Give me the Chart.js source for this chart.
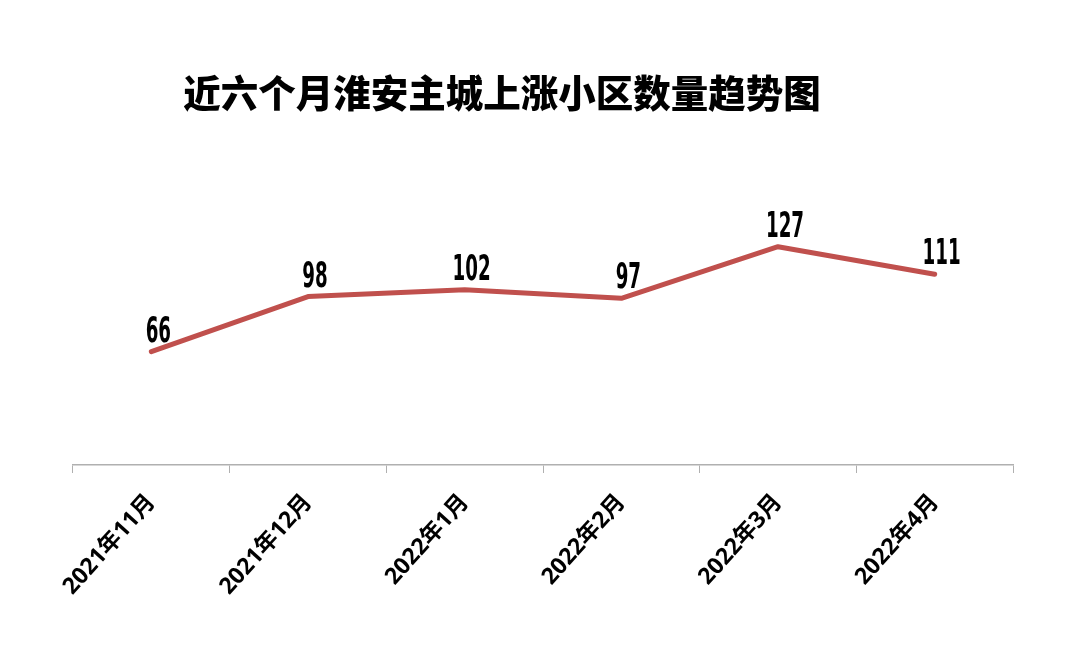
<!DOCTYPE html>
<html>
<head>
<meta charset="utf-8">
<script src="https://cdn.jsdelivr.net/npm/chart.js@4/dist/chart.umd.min.js"></script>
<style>
  html, body { margin: 0; padding: 0; background: #fff; }
  #wrap { width: 1080px; height: 656px; position: relative; }
</style>
</head>
<body>
<div id="wrap"><canvas id="c"></canvas></div>
<script>
const titleText = '近六个月淮安主城上涨小区数量趋势图';
const categories = ['2021年11月', '2021年12月', '2022年1月', '2022年2月', '2022年3月', '2022年4月'];
const values = [66, 98, 102, 97, 127, 111];

const titlePlugin = {
  id: 'customTitle',
  afterDraw(chart) {
    const ctx = chart.ctx;
    ctx.save();
    ctx.font = '900 37.5px "Noto Sans CJK SC", sans-serif';
    ctx.fillStyle = '#000';
    ctx.textAlign = 'center';
    ctx.textBaseline = 'middle';
    ctx.fillText(titleText, 502, 93);
    ctx.restore();
  }
};

const labelPlugin = {
  id: 'valueLabels',
  afterDatasetsDraw(chart) {
    const ctx = chart.ctx;
    const meta = chart.getDatasetMeta(0);
    ctx.save();
    ctx.font = 'bold 35px "DejaVu Sans Condensed", "DejaVu Sans", sans-serif';
    ctx.fillStyle = '#000';
    ctx.textAlign = 'center';
    ctx.textBaseline = 'alphabetic';
    meta.data.forEach((pt, i) => {
      const v = chart.data.datasets[0].data[i];
      ctx.save();
      ctx.translate(pt.x + 7, pt.y - 10);
      ctx.scale(0.58, 1);
      ctx.fillText(String(v), 0, 0);
      ctx.restore();
    });
    ctx.restore();
  }
};

new Chart(document.getElementById('c'), {
  type: 'line',
  data: {
    labels: categories,
    datasets: [{
      data: values,
      borderColor: '#C0504D',
      backgroundColor: '#C0504D',
      borderWidth: 5,
      pointRadius: 0,
      pointHoverRadius: 0,
      tension: 0,
      fill: false,
      borderCapStyle: 'round',
      borderJoinStyle: 'round'
    }]
  },
  options: {
    responsive: true,
    maintainAspectRatio: false,
    animation: false,
    events: [],
    layout: { padding: { top: 190, left: 73, right: 67, bottom: 0 } },
    plugins: {
      legend: { display: false },
      title: { display: false },
      tooltip: { enabled: false }
    },
    scales: {
      x: {
        type: 'category',
        offset: true,
        grid: {
          display: true,
          drawOnChartArea: false,
          drawTicks: true,
          tickLength: 8,
          color: '#b0b0b0',
          offset: true
        },
        border: { display: true, color: '#b0b0b0', width: 1.5 },
        ticks: {
          autoSkip: false,
          maxRotation: 48,
          minRotation: 48,
          padding: 16,
          color: '#000',
          font: { size: 23, weight: 'bold', family: '"Open Sans", "Noto Sans CJK SC", sans-serif' }
        },
        afterFit(scale) { scale.height = 191; }
      },
      y: {
        display: false,
        min: 0,
        max: 160
      }
    }
  },
  plugins: [titlePlugin, labelPlugin]
});
</script>
</body>
</html>
